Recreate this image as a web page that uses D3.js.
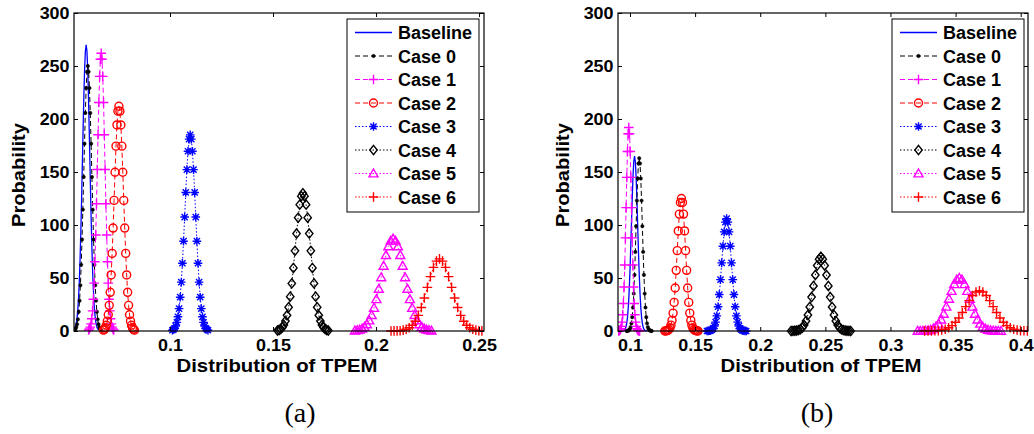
<!DOCTYPE html>
<html><head><meta charset="utf-8">
<script src="https://cdn.jsdelivr.net/npm/d3@7"></script>
<style>
body{margin:0;background:#fff}
svg{display:block}
text{font-family:"Liberation Sans",Arial,Helvetica,sans-serif;font-weight:bold;fill:#000}
</style>
</head><body>
<svg id="chart" width="1034" height="434"></svg>
<script>
// ---------- labels & ticks ----------
const legendLabels = ["Baseline","Case 0","Case 1","Case 2","Case 3","Case 4","Case 5","Case 6"];
const yTicks = [0,50,100,150,200,250,300];
const yDomain = [0,300];
const xTicksA = [0.1,0.15,0.2,0.25];
const xTicksB = [0.1,0.15,0.2,0.25,0.3,0.35,0.4];
const xDomainA = [0.0534,0.2524];
const xDomainB = [0.0908,0.4056];
const xTitle = "Distribution of TPEM";
const yTitle = "Probability";

// ---------- panel (a) data ----------
const xA_base = [0.05338,0.05375,0.05412,0.05449,0.05486,0.05523,0.0556,0.05597,0.05634,0.05671,0.05708,0.05745,0.05782,0.05819,0.05856,0.05893,0.0593,0.05967,0.06004,0.06041,0.06078,0.06115,0.06152,0.06189,0.06226,0.06263,0.063,0.06337,0.06374,0.06411,0.06448,0.06485,0.06522];
const yA_base = [1.1,2.1,3.8,6.9,11.9,19.5,30.8,46.5,67.3,93.2,123.6,157.0,190.8,222.1,247.6,264.2,270,264.2,247.6,222.1,190.8,157.0,123.6,93.2,67.3,46.5,30.8,19.5,11.9,6.9,3.8,2.1,1.1];
const xA_c0 = [0.0537,0.0541,0.0545,0.0549,0.0553,0.0557,0.0561,0.0565,0.0569,0.0573,0.0577,0.0581,0.0585,0.0589,0.0593,0.0597,0.0601,0.0605,0.0609,0.0613,0.0617,0.0621,0.0625,0.0629,0.0633,0.0637,0.0641,0.0645,0.0649,0.0653,0.0657,0.0661,0.0665];
const yA_c0 = [1.0,1.9,3.6,6.4,11.0,18.1,28.6,43.1,62.4,86.3,114.5,145.3,176.7,205.7,229.2,244.6,250,244.6,229.2,205.7,176.7,145.3,114.5,86.3,62.4,43.1,28.6,18.1,11.0,6.4,3.6,1.9,1.0];
const xA_c1 = [0.06052,0.0609,0.06128,0.06166,0.06204,0.06242,0.0628,0.06318,0.06356,0.06394,0.06432,0.0647,0.06508,0.06546,0.06584,0.06622,0.0666,0.06698,0.06736,0.06774,0.06812,0.0685,0.06888,0.06926,0.06964,0.07002,0.0704,0.07078,0.07116,0.07154,0.07192,0.0723,0.07268];
const yA_c1 = [1.0,2.0,3.7,6.7,11.5,19.0,29.9,45.2,65.3,90.5,120.0,152.3,185.2,215.5,240.2,256.4,262,256.4,240.2,215.5,185.2,152.3,120.0,90.5,65.3,45.2,29.9,19.0,11.5,6.7,3.7,2.0,1.0];
const xA_c2 = [0.06768,0.06815,0.06862,0.06909,0.06956,0.07003,0.0705,0.07097,0.07144,0.07191,0.07238,0.07285,0.07332,0.07379,0.07426,0.07473,0.0752,0.07567,0.07614,0.07661,0.07708,0.07755,0.07802,0.07849,0.07896,0.07943,0.0799,0.08037,0.08084,0.08131,0.08178,0.08225,0.08272];
const yA_c2 = [0.8,1.6,3.0,5.4,9.3,15.3,24.2,36.5,52.9,73.2,97.1,123.2,149.8,174.4,194.4,207.4,212,207.4,194.4,174.4,149.8,123.2,97.1,73.2,52.9,36.5,24.2,15.3,9.3,5.4,3.0,1.6,0.8];
const xA_c3 = [0.10116,0.1017,0.10224,0.10278,0.10332,0.10386,0.1044,0.10494,0.10548,0.10602,0.10656,0.1071,0.10764,0.10818,0.10872,0.10926,0.1098,0.11034,0.11088,0.11142,0.11196,0.1125,0.11304,0.11358,0.11412,0.11466,0.1152,0.11574,0.11628,0.11682,0.11736,0.1179,0.11844];
const yA_c3 = [0.7,1.4,2.6,4.7,8.1,13.4,21.1,31.9,46.1,63.9,84.7,107.5,130.7,152.2,169.6,181.0,185,181.0,169.6,152.2,130.7,107.5,84.7,63.9,46.1,31.9,21.1,13.4,8.1,4.7,2.6,1.4,0.7];
const xA_c4 = [0.15218,0.15295,0.15372,0.15449,0.15526,0.15603,0.1568,0.15757,0.15834,0.15911,0.15988,0.16065,0.16142,0.16219,0.16296,0.16373,0.1645,0.16527,0.16604,0.16681,0.16758,0.16835,0.16912,0.16989,0.17066,0.17143,0.1722,0.17297,0.17374,0.17451,0.17528,0.17605,0.17682];
const yA_c4 = [0.5,1.0,1.8,3.3,5.7,9.4,14.8,22.4,32.4,44.9,59.5,75.6,91.9,106.9,119.2,127.2,130,127.2,119.2,106.9,91.9,75.6,59.5,44.9,32.4,22.4,14.8,9.4,5.7,3.3,1.8,1.0,0.5];
const xA_c5 = [0.18974,0.1909,0.19206,0.19322,0.19438,0.19554,0.1967,0.19786,0.19902,0.20018,0.20134,0.2025,0.20366,0.20482,0.20598,0.20714,0.2083,0.20946,0.21062,0.21178,0.21294,0.2141,0.21526,0.21642,0.21758,0.21874,0.2199,0.22106,0.22222,0.22338,0.22454,0.2257,0.22686];
const yA_c5 = [0.3,0.7,1.2,2.2,3.8,6.3,9.9,15.0,21.7,30.0,39.8,50.6,61.5,71.6,79.8,85.1,87,85.1,79.8,71.6,61.5,50.6,39.8,30.0,21.7,15.0,9.9,6.3,3.8,2.2,1.2,0.7,0.3];
const xA_c6 = [0.20728,0.20875,0.21022,0.21169,0.21316,0.21463,0.2161,0.21757,0.21904,0.22051,0.22198,0.22345,0.22492,0.22639,0.22786,0.22933,0.2308,0.23227,0.23374,0.23521,0.23668,0.23815,0.23962,0.24109,0.24256,0.24403,0.2455,0.24697,0.24844,0.24991,0.25138,0.25285,0.25432];
const yA_c6 = [0,0.1,0.1,0.3,0.8,1.6,3.0,5.4,9.2,14.7,22.1,31.1,41.2,51.3,60.0,65.9,68,65.9,60.0,51.3,41.2,31.1,22.1,14.7,9.2,5.4,3.0,1.6,0.8,0.3,0.1,0.1,0];

// ---------- panel (b) data ----------
const xB_base = [0.0939,0.0945,0.0951,0.0957,0.0963,0.0969,0.0975,0.0981,0.0987,0.0993,0.0999,0.1005,0.1011,0.1017,0.1023,0.1029,0.1035,0.1041,0.1047,0.1053,0.1059,0.1065,0.1071,0.1077,0.1083,0.1089,0.1095,0.1101,0.1107,0.1113,0.1119,0.1125,0.1131];
const yB_base = [0,0.1,0.4,0.8,1.8,3.8,7.2,13.1,22.3,35.7,53.6,75.5,100.1,124.5,145.6,159.9,165,159.9,145.6,124.5,100.1,75.5,53.6,35.7,22.3,13.1,7.2,3.8,1.8,0.8,0.4,0.1,0];
const xB_c0 = [0.0975,0.0981,0.0987,0.0993,0.0999,0.1005,0.1011,0.1017,0.1023,0.1029,0.1035,0.1041,0.1047,0.1053,0.1059,0.1065,0.1071,0.1077,0.1083,0.1089,0.1095,0.1101,0.1107,0.1113,0.1119,0.1125,0.1131,0.1137,0.1143,0.1149,0.1155,0.1161,0.1167];
const yB_c0 = [0,0.1,0.4,0.8,1.8,3.7,7.2,13.0,22.1,35.3,52.9,74.6,98.9,123.0,143.8,158.0,163,158.0,143.8,123.0,98.9,74.6,52.9,35.3,22.1,13.0,7.2,3.7,1.8,0.8,0.4,0.1,0];
const xB_c1 = [0.09078,0.0913,0.09182,0.09234,0.09286,0.09338,0.0939,0.09442,0.09494,0.09546,0.09598,0.0965,0.09702,0.09754,0.09806,0.09858,0.0991,0.09962,0.10014,0.10066,0.10118,0.1017,0.10222,0.10274,0.10326,0.10378,0.1043,0.10482,0.10534,0.10586,0.10638,0.1069,0.10742];
const yB_c1 = [0.1,0.2,0.4,1.0,2.1,4.4,8.4,15.3,26.0,41.5,62.3,87.9,116.4,144.9,169.4,186.1,192,186.1,169.4,144.9,116.4,87.9,62.3,41.5,26.0,15.3,8.4,4.4,2.1,1.0,0.4,0.2,0.1];
const xB_c2 = [0.1267,0.1275,0.1283,0.1291,0.1299,0.1307,0.1315,0.1323,0.1331,0.1339,0.1347,0.1355,0.1363,0.1371,0.1379,0.1387,0.1395,0.1403,0.1411,0.1419,0.1427,0.1435,0.1443,0.1451,0.1459,0.1467,0.1475,0.1483,0.1491,0.1499,0.1507,0.1515,0.1523];
const yB_c2 = [0,0.1,0.3,0.6,1.4,2.9,5.5,10.0,16.9,27.0,40.6,57.2,75.8,94.4,110.3,121.2,125,121.2,110.3,94.4,75.8,57.2,40.6,27.0,16.9,10.0,5.5,2.9,1.4,0.6,0.3,0.1,0];
const xB_c3 = [0.15916,0.1601,0.16104,0.16198,0.16292,0.16386,0.1648,0.16574,0.16668,0.16762,0.16856,0.1695,0.17044,0.17138,0.17232,0.17326,0.1742,0.17514,0.17608,0.17702,0.17796,0.1789,0.17984,0.18078,0.18172,0.18266,0.1836,0.18454,0.18548,0.18642,0.18736,0.1883,0.18924];
const yB_c3 = [0,0.1,0.2,0.5,1.2,2.4,4.7,8.4,14.3,22.9,34.4,48.5,64.3,80.0,93.5,102.7,106,102.7,93.5,80.0,64.3,48.5,34.4,22.9,14.3,8.4,4.7,2.4,1.2,0.5,0.2,0.1,0];
const xB_c4 = [0.22372,0.22515,0.22658,0.22801,0.22944,0.23087,0.2323,0.23373,0.23516,0.23659,0.23802,0.23945,0.24088,0.24231,0.24374,0.24517,0.2466,0.24803,0.24946,0.25089,0.25232,0.25375,0.25518,0.25661,0.25804,0.25947,0.2609,0.26233,0.26376,0.26519,0.26662,0.26805,0.26948];
const yB_c4 = [0,0.1,0.2,0.4,0.8,1.6,3.1,5.6,9.5,15.1,22.7,32.0,42.5,52.8,61.8,67.8,70,67.8,61.8,52.8,42.5,32.0,22.7,15.1,9.5,5.6,3.1,1.6,0.8,0.4,0.2,0.1,0];
const xB_c5 = [0.3209,0.3229,0.3249,0.3269,0.3289,0.3309,0.3329,0.3349,0.3369,0.3389,0.3409,0.3429,0.3449,0.3469,0.3489,0.3509,0.3529,0.3549,0.3569,0.3589,0.3609,0.3629,0.3649,0.3669,0.3689,0.3709,0.3729,0.3749,0.3769,0.3789,0.3809,0.3829,0.3849];
const yB_c5 = [0,0,0.1,0.3,0.6,1.1,2.2,4.0,6.8,10.8,16.2,22.9,30.3,37.7,44.1,48.5,50,48.5,44.1,37.7,30.3,22.9,16.2,10.8,6.8,4.0,2.2,1.1,0.6,0.3,0.1,0,0];
const xB_c6 = [0.32622,0.32885,0.33148,0.33411,0.33674,0.33937,0.342,0.34463,0.34726,0.34989,0.35252,0.35515,0.35778,0.36041,0.36304,0.36567,0.3683,0.37093,0.37356,0.37619,0.37882,0.38145,0.38408,0.38671,0.38934,0.39197,0.3946,0.39723,0.39986,0.40249,0.40512,0.40775,0.41038];
const yB_c6 = [0,0,0.1,0.2,0.4,0.9,1.7,3.0,5.1,8.2,12.3,17.4,23.0,28.7,33.5,36.8,38,36.8,33.5,28.7,23.0,17.4,12.3,8.2,5.1,3.0,1.7,0.9,0.4,0.2,0.1,0,0];

const seriesA = [[xA_base,yA_base],[xA_c0,yA_c0],[xA_c1,yA_c1],[xA_c2,yA_c2],[xA_c3,yA_c3],[xA_c4,yA_c4],[xA_c5,yA_c5],[xA_c6,yA_c6]];
const seriesB = [[xB_base,yB_base],[xB_c0,yB_c0],[xB_c1,yB_c1],[xB_c2,yB_c2],[xB_c3,yB_c3],[xB_c4,yB_c4],[xB_c5,yB_c5],[xB_c6,yB_c6]];

// ---------- styles ----------
const DASH = "5,3", DOT = "1.5,2";
const styles = [
  {color:"#0000ff", dash:null, marker:null},
  {color:"#000000", dash:DASH, marker:"dot"},
  {color:"#ff00ff", dash:DASH, marker:"plus"},
  {color:"#ff0000", dash:DASH, marker:"circle"},
  {color:"#0000ff", dash:DOT,  marker:"star"},
  {color:"#000000", dash:DOT,  marker:"diamond"},
  {color:"#ff00ff", dash:DOT,  marker:"triangle"},
  {color:"#ff0000", dash:DOT,  marker:"plus"}
];

function markerPath(type){
  switch(type){
    case "plus": {const s=4.8; return `M${-s},0H${s}M0,${-s}V${s}`;}
    case "circle": {const r=4; return `M${r},0A${r},${r} 0 1,1 ${-r},0A${r},${r} 0 1,1 ${r},0Z`;}
    case "star": {const s=4.3, a=3.1; return `M${-s},0H${s}M0,${-s}V${s}M${-a},${-a}L${a},${a}M${-a},${a}L${a},${-a}`;}
    case "diamond": {const w=3.7,h=4.6; return `M0,${-h}L${w},0L0,${h}L${-w},0Z`;}
    case "triangle": {const s=4.5; return `M0,${-s}L${s},${s*0.75}L${-s},${s*0.75}Z`;}
    case "dot": {const r=1.7; return `M${r},0A${r},${r} 0 1,1 ${-r},0A${r},${r} 0 1,1 ${r},0Z`;}
  }
  return "";
}

const svg = d3.select("#chart");

function drawPanel(cfg){
  const {left,right,top,bottom,xDomain,xTicks,series,legend,yTitleX,xTitleX,subX,subLabel,id} = cfg;
  const x = d3.scaleLinear().domain(xDomain).range([left,right]);
  const y = d3.scaleLinear().domain(yDomain).range([bottom,top]);
  const g = svg.append("g");

  g.append("clipPath").attr("id","clip"+id)
    .append("rect").attr("x",left).attr("y",0).attr("width",right-left).attr("height",434);

  const plot = g.append("g").attr("clip-path",`url(#clip${id})`);
  const line = d3.line().x(d=>x(d[0])).y(d=>y(d[1]));

  series.forEach(([xs,ys],i)=>{
    const st = styles[i];
    const pts = xs.map((v,j)=>[v,ys[j]]);
    plot.append("path").datum(pts)
      .attr("d",line).attr("fill","none")
      .attr("stroke",st.color).attr("stroke-width",st.marker?1:1.3)
      .attr("stroke-dasharray",st.dash);
    if(st.marker){
      const filled = st.marker==="dot";
      plot.append("g").selectAll("path").data(pts).join("path")
        .attr("transform",d=>`translate(${x(d[0])},${y(d[1])})`)
        .attr("d",markerPath(st.marker))
        .attr("fill",filled?st.color:"none")
        .attr("stroke",st.color).attr("stroke-width",filled?0.5:1.4);
    }
  });

  // axes
  const tickFont = a=>a.selectAll("text").style("font-size","16px").style("font-weight","bold")
     .style("font-family","'Liberation Sans',Arial,sans-serif").attr("fill","#000")
     .attr("transform","scale(1.12,1)");
  g.append("g").attr("transform",`translate(0,${bottom})`)
    .call(d3.axisBottom(x).tickValues(xTicks).tickSizeInner(-4).tickSizeOuter(0).tickPadding(9).tickFormat(d=>String(d)))
    .call(a=>a.select(".domain").remove()).call(tickFont);
  g.append("g").attr("transform",`translate(0,${top})`)
    .call(d3.axisTop(x).tickValues(xTicks).tickSizeInner(-4).tickSizeOuter(0).tickFormat(""))
    .call(a=>a.select(".domain").remove());
  g.append("g").attr("transform",`translate(${left},0)`)
    .call(d3.axisLeft(y).tickValues(yTicks).tickSizeInner(-4).tickSizeOuter(0).tickPadding(4).tickFormat(d=>String(d)))
    .call(a=>a.select(".domain").remove()).call(tickFont);
  g.append("g").attr("transform",`translate(${right},0)`)
    .call(d3.axisRight(y).tickValues(yTicks).tickSizeInner(-4).tickSizeOuter(0).tickFormat(""))
    .call(a=>a.select(".domain").remove());
  g.selectAll(".tick line").attr("stroke","#000");

  g.append("rect").attr("x",left).attr("y",top).attr("width",right-left).attr("height",bottom-top)
    .attr("fill","none").attr("stroke","#000").attr("stroke-width",1.2);

  // titles
  g.append("text").attr("x",xTitleX).attr("y",372).attr("text-anchor","middle")
    .style("font-size","18.5px").attr("textLength",201).attr("lengthAdjust","spacingAndGlyphs").text(xTitle);
  g.append("text").attr("transform",`translate(${yTitleX},175) rotate(-90)`).attr("text-anchor","middle")
    .style("font-size","18.5px").attr("textLength",104).attr("lengthAdjust","spacingAndGlyphs").text(yTitle);
  g.append("text").attr("x",subX).attr("y",422).attr("text-anchor","middle")
    .style("font-family","'Liberation Serif','Times New Roman',serif").style("font-weight","normal")
    .style("font-size","28px").text(subLabel);

  // legend
  const lg = g.append("g");
  lg.append("rect").attr("x",legend.x).attr("y",legend.y).attr("width",legend.w).attr("height",legend.h)
    .attr("fill","#fff").attr("stroke","#000").attr("stroke-width",1);
  legendLabels.forEach((lab,i)=>{
    const st = styles[i];
    const cy = legend.y + 13.5 + i*23.5;
    const x0 = legend.x + 8, x1 = legend.x + 45;
    lg.append("line").attr("x1",x0).attr("x2",x1).attr("y1",cy).attr("y2",cy)
      .attr("stroke",st.color).attr("stroke-width",st.marker?1:1.3).attr("stroke-dasharray",st.dash);
    if(st.marker){
      const filled = st.marker==="dot";
      lg.append("path").attr("transform",`translate(${(x0+x1)/2},${cy})`)
        .attr("d",markerPath(st.marker)).attr("fill",filled?st.color:"none")
        .attr("stroke",st.color).attr("stroke-width",filled?0.5:1.4);
    }
    lg.append("text").attr("x",legend.x+51).attr("y",cy+6.5).style("font-size","18px").text(lab);
  });
}

drawPanel({id:"a",left:74,right:484,top:13,bottom:331,xDomain:xDomainA,xTicks:xTicksA,series:seriesA,
  legend:{x:347,y:19,w:132,h:193},yTitleX:25,xTitleX:277,subX:300,subLabel:"(a)"});
drawPanel({id:"b",left:618,right:1028,top:13,bottom:331,xDomain:xDomainB,xTicks:xTicksB,series:seriesB,
  legend:{x:892,y:19,w:132,h:193},yTitleX:569,xTitleX:821,subX:817,subLabel:"(b)"});
</script>
</body></html>
